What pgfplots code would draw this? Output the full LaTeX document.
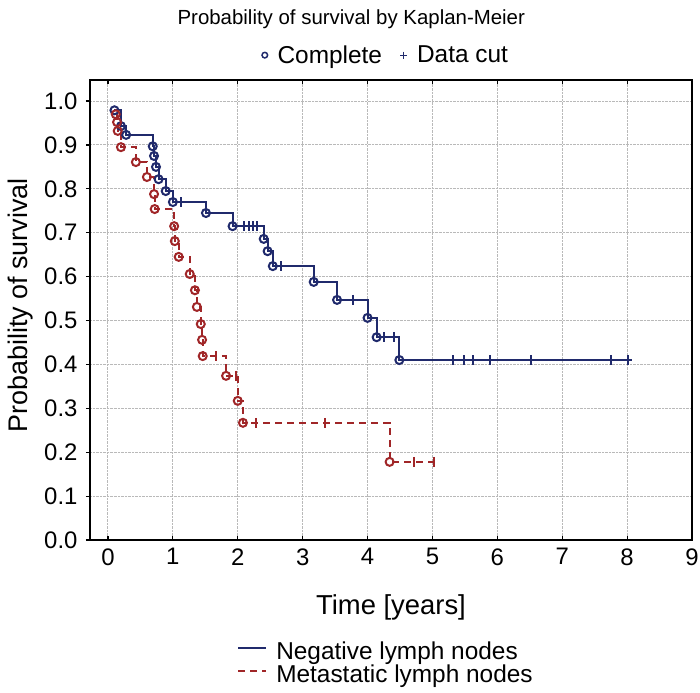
\documentclass[border=0pt]{standalone}
\usepackage{fontspec}
\setmainfont{Liberation Sans}
\usepackage{pgfplots}
\pgfplotsset{compat=1.18}
\definecolor{navy}{HTML}{202A6C}
\definecolor{dred}{HTML}{A02628}
\begin{document}
\begin{tikzpicture}
\useasboundingbox (-90bp,-153bp) rectangle (610bp,540bp);
\begin{axis}[
  at={(0,0)}, anchor=south west,
  scale only axis, width=602bp, height=460bp,
  xmin=-0.277, xmax=9, ymin=0, ymax=1.048,
  xtick={0,1,2,3,4,5,6,7,8,9},
  xticklabels={0,1,2,3,4,5,6,7,8,9},
  ytick={0,0.1,0.2,0.3,0.4,0.5,0.6,0.7,0.8,0.9,1.0},
  yticklabels={0.0,0.1,0.2,0.3,0.4,0.5,0.6,0.7,0.8,0.9,1.0},
  tick label style={font=\fontsize{24}{26}\selectfont},
  yticklabel style={xshift=-5bp},
  xticklabel style={yshift=-5bp},
  /pgf/number format/assume math mode=true,
  xtick align=inside, ytick align=outside, ytick pos=left,
  major tick length=4bp,
  tick style={black, line width=1.2bp},
  axis line style={black, line width=1.8bp},
  grid=major,
  major grid style={densely dotted, gray!55, line width=1bp},
  xlabel={Time [years]},
  ylabel={Probability of survival},
  xlabel style={font=\fontsize{27.5}{30}\selectfont, at={(axis description cs:0.5,-0.146)}, anchor=center},
  ylabel style={font=\fontsize{27}{30}\selectfont, at={(axis description cs:-0.1146,0.51)}, anchor=center},
  title={Probability of survival by Kaplan-Meier},
  title style={font=\fontsize{20.5}{24}\selectfont, at={(axis description cs:0.434,1.12)}, anchor=center},
  legend style={draw=none, fill=none, font=\fontsize{24.5}{24}\selectfont,
    at={(axis description cs:0.49,-0.272)}, anchor=center, row sep=0pt,
    inner sep=0pt, nodes={inner sep=0pt, text height=17bp, text depth=6bp},
    /tikz/every odd column/.append style={column sep=9bp}},
  legend cell align=left,
  legend image code/.code={\draw[#1] (0bp,5.5bp) -- (28bp,5.5bp);},
]
% Negative lymph nodes
\addplot[const plot, navy, line width=2bp] coordinates {
(0.10,0.979) (0.20,0.943) (0.28,0.923) (0.69,0.897) (0.71,0.875) (0.74,0.850)
(0.78,0.822) (0.89,0.795) (1.00,0.770) (1.51,0.745) (1.92,0.715) (2.40,0.686)
(2.46,0.658) (2.54,0.624) (3.17,0.588) (3.53,0.547) (4.00,0.506) (4.14,0.462)
(4.49,0.410) (8.07,0.410)};
\addlegendentry{Negative lymph nodes}
% Metastatic lymph nodes
\addplot[const plot, dred, line width=2bp, dash pattern=on 7bp off 5bp] coordinates {
(0.12,0.970) (0.14,0.952) (0.15,0.932) (0.20,0.895) (0.43,0.861) (0.60,0.827)
(0.71,0.788) (0.72,0.754) (1.02,0.715) (1.03,0.681) (1.09,0.645) (1.26,0.606)
(1.34,0.569) (1.37,0.531) (1.43,0.492) (1.45,0.456) (1.46,0.419) (1.82,0.374)
(2.00,0.317) (2.08,0.267) (4.34,0.178) (5.05,0.178)};
\addlegendentry{Metastatic lymph nodes}
% complete (events)
\addplot[forget plot, only marks, mark=o, navy, mark size=4bp, line width=2bp, mark options={fill=white}] coordinates {
(0.10,0.979) (0.20,0.943) (0.28,0.923) (0.69,0.897) (0.71,0.875) (0.74,0.850)
(0.78,0.822) (0.89,0.795) (1.00,0.770) (1.51,0.745) (1.92,0.715) (2.40,0.686)
(2.46,0.658) (2.54,0.624) (3.17,0.588) (3.53,0.547) (4.00,0.506) (4.14,0.462)
(4.49,0.410)};
\addplot[forget plot, only marks, mark=o, dred, mark size=4bp, line width=2bp, mark options={fill=white}] coordinates {
(0.12,0.970) (0.14,0.952) (0.15,0.932) (0.20,0.895) (0.43,0.861) (0.60,0.827)
(0.71,0.788) (0.72,0.754) (1.02,0.715) (1.03,0.681) (1.09,0.645) (1.26,0.606)
(1.34,0.569) (1.37,0.531) (1.43,0.492) (1.45,0.456) (1.46,0.419) (1.82,0.374)
(2.00,0.317) (2.08,0.267) (4.34,0.178)};
% censored (data cut)
\addplot[forget plot, only marks, mark=|, navy, mark size=5bp, line width=2bp] coordinates {
(1.12,0.770) (2.10,0.715) (2.17,0.715) (2.23,0.715) (2.30,0.715) (2.66,0.624)
(3.77,0.547) (4.25,0.462) (4.40,0.462) (5.32,0.410) (5.48,0.410) (5.63,0.410)
(5.88,0.410) (6.52,0.410) (7.75,0.410) (8.02,0.410)};
\addplot[forget plot, only marks, mark=|, dred, mark size=5bp, line width=2bp] coordinates {
(1.66,0.419) (1.97,0.374) (2.28,0.267) (3.35,0.267) (4.71,0.178) (5.02,0.178)};
\end{axis}
\begin{axis}[
  at={(0,0)}, anchor=south west,
  scale only axis, width=602bp, height=460bp,
  xmin=0, xmax=1, ymin=0, ymax=1, hide axis,
  legend style={draw=none, fill=none, font=\fontsize{24.5}{26}\selectfont,
    at={(axis description cs:0.49,1.054)}, anchor=center,
    legend columns=2, inner sep=0pt,
    nodes={inner sep=0pt},
    /tikz/every odd column/.append style={column sep=10bp},
    /tikz/every even column/.append style={column sep=18bp}},
  legend image code/.code={\draw[#1] plot coordinates {(0bp,0bp)};},
]
\addlegendimage{only marks, mark=o, navy, mark size=2.8bp, line width=1.5bp}
\addlegendentry{Complete}
\addlegendimage{only marks, mark=+, navy, mark size=3.5bp, line width=1.2bp}
\addlegendentry{Data cut}
\end{axis}
\end{tikzpicture}
\end{document}
